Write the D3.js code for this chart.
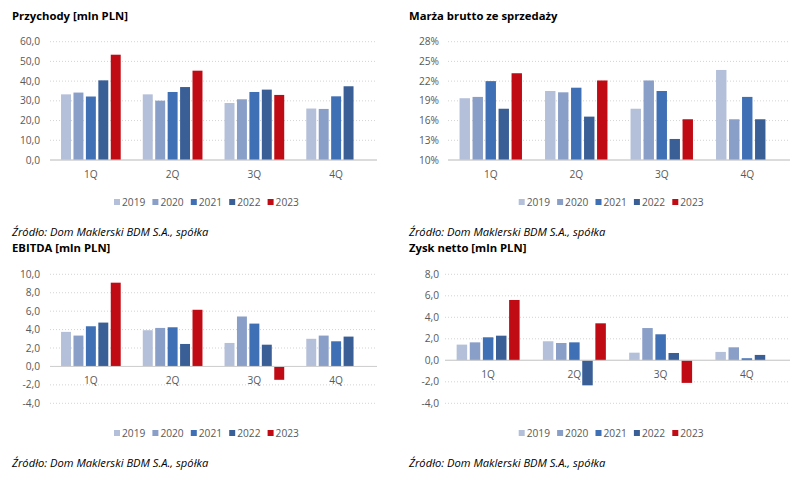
<!DOCTYPE html>
<html>
<head>
<meta charset="utf-8">
<script src="https://cdn.jsdelivr.net/npm/d3@7"></script>
<style>
  body { margin: 0; background: #fff; }
  text { font-family: "Open Sans", sans-serif; }
</style>
</head>
<body>
<div id="chart"></div>
<script>
const quarters = ['1Q', '2Q', '3Q', '4Q'];
const years = ['2019', '2020', '2021', '2022', '2023'];
const yearColors = ['#b4bfd9', '#8a9fc8', '#3f6fb5', '#3a5f96', '#c00a14'];

// values per year, in quarter order (null = no data yet)
const przychody = {
  '2019': [33.3, 33.3, 28.9, 26.1],
  '2020': [34.2, 30.1, 30.8, 25.9],
  '2021': [32.2, 34.5, 34.5, 32.3],
  '2022': [40.4, 37.0, 35.7, 37.4],
  '2023': [53.4, 45.3, 33.0, null]
};
const marza = {
  '2019': [19.4, 20.5, 17.8, 23.7],
  '2020': [19.6, 20.3, 22.1, 16.2],
  '2021': [22.0, 21.0, 20.5, 19.6],
  '2022': [17.8, 16.6, 13.2, 16.2],
  '2023': [23.2, 22.1, 16.2, null]
};
const ebitda = {
  '2019': [3.75, 3.93, 2.55, 3.0],
  '2020': [3.35, 4.18, 5.42, 3.35],
  '2021': [4.36, 4.25, 4.65, 2.73],
  '2022': [4.76, 2.44, 2.36, 3.24],
  '2023': [9.09, 6.15, -1.45, null]
};
const zysk = {
  '2019': [1.46, 1.77, 0.71, 0.78],
  '2020': [1.67, 1.61, 3.0, 1.21],
  '2021': [2.14, 1.67, 2.42, 0.19],
  '2022': [2.29, -2.33, 0.68, 0.5],
  '2023': [5.61, 3.44, -2.1, null]
};

const przychodyTicks = [0, 10, 20, 30, 40, 50, 60];
const marzaTicks = [10, 13, 16, 19, 22, 25, 28];
const ebitdaTicks = [-4, -2, 0, 2, 4, 6, 8, 10];
const zyskTicks = [-4, -2, 0, 2, 4, 6, 8];

const sourceText = 'Źródło: Dom Maklerski BDM S.A., spółka';

const svg = d3.select('#chart').append('svg')
  .attr('width', 800)
  .attr('height', 478);

const fmtNum = d => d3.format('.1f')(d).replace('.', ',').replace('−', '-');
const fmtPct = d => d + '%';

function drawPanel(cfg) {
  const g = svg.append('g');
  const y = d3.scaleLinear().domain(cfg.domain).range([cfg.bottom, cfg.top]);
  const x0 = d3.scaleBand().domain(quarters)
    .range([cfg.left, cfg.right])
    .paddingInner(0.27).paddingOuter(0.135);
  const x1 = d3.scaleBand().domain(years)
    .range([0, x0.bandwidth()])
    .paddingInner(0.2);
  const base = cfg.domain[0] < 0 ? 0 : cfg.domain[0];

  // title
  g.append('text')
    .attr('x', cfg.titleX).attr('y', cfg.titleY)
    .attr('dy', '0.35em')
    .attr('font-size', 11.3).attr('font-weight', 'bold')
    .attr('fill', '#000')
    .text(cfg.title);

  // gridlines
  cfg.ticks.forEach(t => {
    const solid = t === base;
    g.append('line')
      .attr('x1', cfg.left).attr('x2', cfg.right)
      .attr('y1', y(t)).attr('y2', y(t))
      .attr('stroke', solid ? '#d0d0d0' : '#c8c8c8')
      .attr('stroke-width', solid ? 1 : 0.8)
      .attr('stroke-dasharray', solid ? null : '1,2');
    g.append('text')
      .attr('x', cfg.labelX).attr('y', y(t))
      .attr('dy', '0.35em')
      .attr('text-anchor', 'end')
      .attr('font-size', 10.2)
      .attr('fill', '#595959')
      .text(cfg.fmt(t));
  });

  // bars
  years.forEach((yr, i) => {
    g.selectAll(null)
      .data(cfg.data[yr].map((v, q) => ({q: quarters[q], v: v})).filter(d => d.v !== null))
      .enter().append('rect')
      .attr('x', d => x0(d.q) + x1(yr))
      .attr('width', x1.bandwidth())
      .attr('y', d => y(Math.max(d.v, base)))
      .attr('height', d => Math.abs(y(d.v) - y(base)))
      .attr('fill', yearColors[i]);
  });

  // re-draw baseline above bars
  g.append('line')
    .attr('x1', cfg.left).attr('x2', cfg.right)
    .attr('y1', y(base)).attr('y2', y(base))
    .attr('stroke', '#d0d0d0').attr('stroke-width', 1);

  // category labels
  quarters.forEach(q => {
    g.append('text')
      .attr('x', x0(q) + x0.bandwidth() / 2)
      .attr('y', y(base) + 14)
      .attr('dy', '0.35em')
      .attr('text-anchor', 'middle')
      .attr('font-size', 10.2)
      .attr('fill', '#595959')
      .text(q);
  });

  // legend
  years.forEach((yr, i) => {
    const lx = cfg.legendX + i * 38.4;
    g.append('rect')
      .attr('x', lx - 3).attr('y', cfg.legendY - 3)
      .attr('width', 6).attr('height', 6)
      .attr('fill', yearColors[i]);
    g.append('text')
      .attr('x', lx + 5).attr('y', cfg.legendY)
      .attr('dy', '0.35em')
      .attr('font-size', 10.2)
      .attr('fill', '#595959')
      .text(yr);
  });

  // source
  g.append('text')
    .attr('x', cfg.titleX).attr('y', cfg.sourceY)
    .attr('dy', '0.35em')
    .attr('font-size', 11.2).attr('font-style', 'italic')
    .attr('fill', '#000')
    .text(sourceText);
}

drawPanel({
  title: 'Przychody [mln PLN]', titleX: 12, titleY: 16,
  data: przychody, domain: [0, 60], ticks: przychodyTicks, fmt: fmtNum,
  left: 50, right: 377, top: 41.7, bottom: 160, labelX: 40,
  legendX: 117, legendY: 202, sourceY: 232
});
drawPanel({
  title: 'Marża brutto ze sprzedaży', titleX: 409, titleY: 16,
  data: marza, domain: [10, 28], ticks: marzaTicks, fmt: fmtPct,
  left: 448, right: 790, top: 41.7, bottom: 160, labelX: 439,
  legendX: 521.7, legendY: 202, sourceY: 232
});
drawPanel({
  title: 'EBITDA [mln PLN]', titleX: 12, titleY: 248,
  data: ebitda, domain: [-4, 10], ticks: ebitdaTicks, fmt: fmtNum,
  left: 50, right: 377, top: 274.3, bottom: 403.3, labelX: 40,
  legendX: 117, legendY: 433, sourceY: 462.7
});
drawPanel({
  title: 'Zysk netto [mln PLN]', titleX: 409, titleY: 248,
  data: zysk, domain: [-4, 8], ticks: zyskTicks, fmt: fmtNum,
  left: 445, right: 790, top: 274.3, bottom: 403.3, labelX: 439,
  legendX: 521.7, legendY: 433, sourceY: 462.7
});
</script>
</body>
</html>
